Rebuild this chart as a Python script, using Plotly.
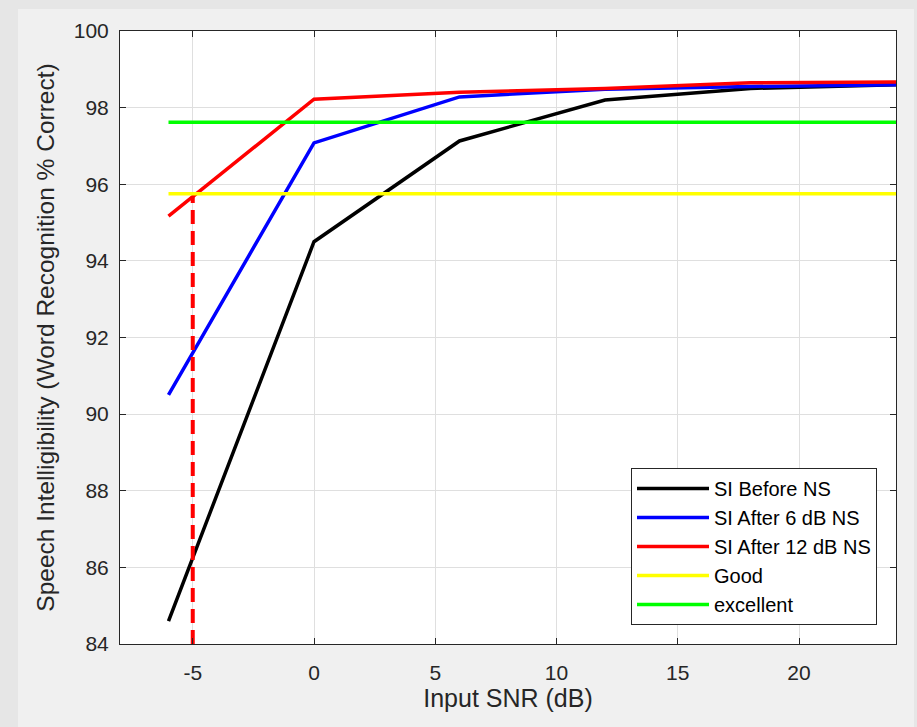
import plotly.graph_objects as go

snr = [-6, 0, 6, 12, 18, 24]
si_before = [84.6, 94.5, 97.13, 98.2, 98.5, 98.6]
si_after6 = [90.5, 97.08, 98.28, 98.48, 98.55, 98.6]
si_after12 = [95.17, 98.22, 98.4, 98.5, 98.65, 98.67]
good_x = [-6, 24]
good_y = [95.75, 95.75]
excellent_x = [-6, 24]
excellent_y = [97.62, 97.62]
marker_x = [-5, -5]
marker_y = [84, 95.68]

x_ticks = [-5, 0, 5, 10, 15, 20]
y_ticks = [84, 86, 88, 90, 92, 94, 96, 98, 100]

FONT = "Liberation Sans, Arial, sans-serif"
TXT = "#262626"

fig = go.Figure()
fig.add_trace(go.Scatter(x=snr, y=si_before, mode="lines", name="SI Before NS",
                         line=dict(color="#000000", width=3.5)))
fig.add_trace(go.Scatter(x=snr, y=si_after6, mode="lines", name="SI After 6 dB NS",
                         line=dict(color="#0000ff", width=3.5)))
fig.add_trace(go.Scatter(x=snr, y=si_after12, mode="lines", name="SI After 12 dB NS",
                         line=dict(color="#ff0000", width=3.5)))
fig.add_trace(go.Scatter(x=good_x, y=good_y, mode="lines", name="Good",
                         line=dict(color="#ffff00", width=3.5)))
fig.add_trace(go.Scatter(x=excellent_x, y=excellent_y, mode="lines", name="excellent",
                         line=dict(color="#00ff00", width=3.5)))
fig.add_trace(go.Scatter(x=marker_x, y=marker_y, mode="lines", showlegend=False,
                         line=dict(color="#ff0000", width=4, dash="14px,7px")))

L, R, T, B = 120, 21, 31, 83
W, H = 917, 727
pw, ph = W - L - R, H - T - B

def px(p):
    return (p - L) / pw

def py(p):
    return (H - B - p) / ph

shapes = [
    dict(type="rect", xref="paper", yref="paper", x0=px(0), x1=px(18), y0=py(H), y1=py(0),
         fillcolor="#e6e6e6", line=dict(width=0), layer="below"),
    dict(type="rect", xref="paper", yref="paper", x0=px(0), x1=px(W), y0=py(9), y1=py(0),
         fillcolor="#e6e6e6", line=dict(width=0), layer="below"),
    dict(type="rect", xref="paper", yref="paper", x0=px(914), x1=px(W), y0=py(H), y1=py(0),
         fillcolor="#e6e6e6", line=dict(width=0), layer="below"),
]

fig.update_layout(
    width=W, height=H,
    margin=dict(l=L, r=R, t=T, b=B, pad=0),
    paper_bgcolor="#f0f0f0",
    plot_bgcolor="#ffffff",
    font=dict(family=FONT, size=21, color=TXT),
    shapes=shapes,
    showlegend=True,
    legend=dict(x=px(877), y=py(625), xanchor="right", yanchor="bottom",
                bgcolor="#ffffff", bordercolor=TXT, borderwidth=1,
                font=dict(family=FONT, size=20, color="#000000"),
                itemwidth=72, tracegroupgap=0),
    xaxis=dict(range=[-8, 24], tickvals=x_ticks, ticktext=[str(v) for v in x_ticks],
               showgrid=True, gridcolor="#dfdfdf", gridwidth=1,
               showline=True, linecolor=TXT, linewidth=1, mirror="ticks",
               ticks="inside", ticklen=6, tickcolor=TXT, zeroline=False,
               tickfont=dict(size=21, color=TXT), ticklabelstandoff=10,
               title=dict(text="Input SNR (dB)", font=dict(size=25, color=TXT), standoff=2)),
    yaxis=dict(range=[84, 100], tickvals=y_ticks, ticktext=[str(v) for v in y_ticks],
               showgrid=True, gridcolor="#dfdfdf", gridwidth=1,
               showline=True, linecolor=TXT, linewidth=1, mirror="ticks",
               ticks="inside", ticklen=6, tickcolor=TXT, zeroline=False,
               tickfont=dict(size=21, color=TXT), ticklabelstandoff=6,
               title=dict(text="Speech Intelligibility (Word Recognition % Correct)",
                          font=dict(size=24.5, color=TXT), standoff=12)),
)

fig.write_html("out.html", config={"displayModeBar": False},
               post_script="document.body.style.margin='0';")
